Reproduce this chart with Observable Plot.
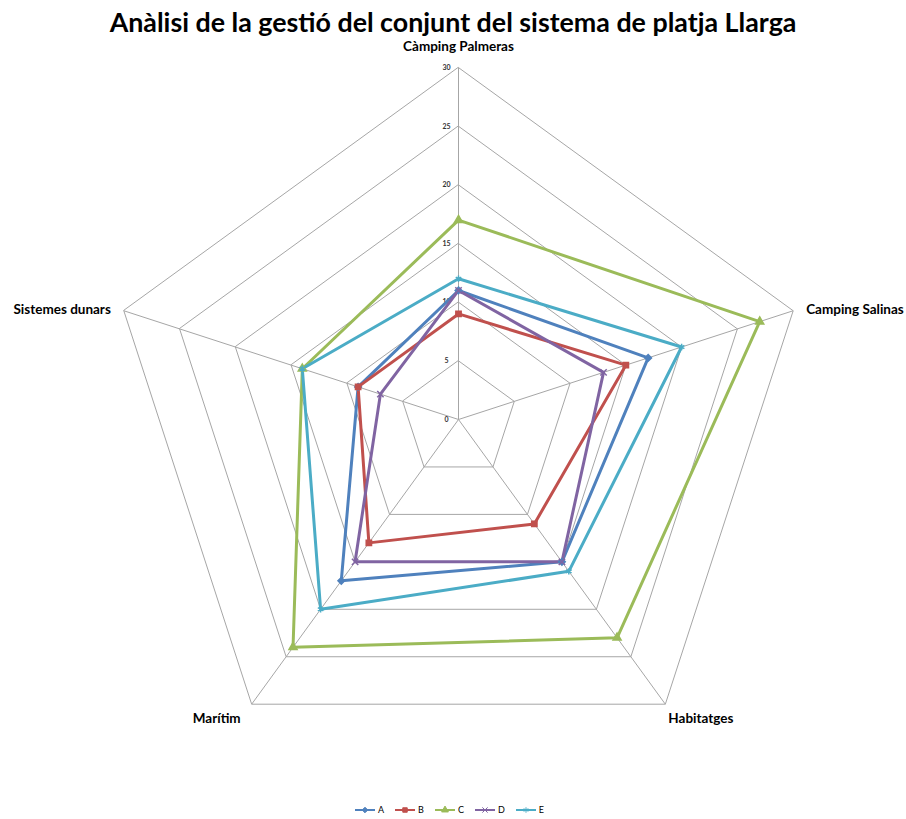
<!DOCTYPE html>
<html><head><meta charset="utf-8">
<script src="https://cdn.jsdelivr.net/npm/d3@7"></script>
<script src="https://cdn.jsdelivr.net/npm/@observablehq/plot@0.6"></script>
<style>
body{margin:0;background:#fff;font-family:Lato,"Open Sans",sans-serif;position:relative;}
#title{position:absolute;top:0;left:0;width:906px;height:40px;line-height:44px;text-align:center;font-weight:bold;font-size:26.8px;color:#000;}
#legend{display:flex;justify-content:center;gap:10px;font-size:9px;height:19px;align-items:center;margin-left:-8px}
#legend span{display:flex;align-items:center;gap:2px}
#chart svg{display:block}
</style></head>
<body>
<div id="chart"></div>
<div id="legend"></div>
<div id="title">Anàlisi de la gestió del conjunt del sistema de platja Llarga</div>
<script>
const axesLabels = ["Càmping Palmeras","Camping Salinas","Habitatges","Marítim","Sistemes dunars"];
const seriesNames = ["A","B","C","D","E"];
const A = [11,17,15,17,9];
const B = [9,15,11,13,9];
const C = [17,27,23,24,14];
const D = [11,13,15,15,7];
const E = [12,20,16,20,14];
const ticks = [0,5,10,15,20,25,30];
const colors = ["#4F81BD","#C0504D","#9BBB59","#8064A2","#4BACC6"];
const symbols = ["diamond2","square","triangle","times","asterisk"];

const values = [A,B,C,D,E];
const n = axesLabels.length;
const ang = i => 2*Math.PI*i/n;
const px = (r,i) => r*Math.sin(ang(i));
const py = (r,i) => r*Math.cos(ang(i));

const pts = [];
values.forEach((vals,s) => vals.forEach((v,i) => pts.push({series:seriesNames[s], axis:axesLabels[i], x:px(v,i), y:py(v,i)})));
const rings = [];
ticks.filter(t=>t>0).forEach(t => axesLabels.forEach((a,i) => rings.push({ring:t, x:px(t,i), y:py(t,i)})));
const spokes = axesLabels.map((a,i)=>({x2:px(30,i), y2:py(30,i)}));
const labelPos = axesLabels.map((a,i)=>({label:a, x:px(30,i), y:py(30,i), i}));

const W=906, H=800, k=11.73, cx=458, cy=419;
const anchors = ["middle","start","start","end","end"];
const dxs = [0,13,3,-11,-13];
const dys = [-21,-1,14,14,-1];

const plot = Plot.plot({
  width: W, height: H,
  margin: 0,
  x: {domain:[-cx/k,(W-cx)/k], axis:null},
  y: {domain:[-(H-cy)/k, cy/k], axis:null},
  color: {domain: seriesNames, range: colors},
  symbol: {domain: seriesNames, range: symbols},
  style: {fontFamily: "Lato, 'Open Sans', sans-serif"},
  marks: [
    Plot.line(rings, {x:"x", y:"y", z:"ring", curve:"linear-closed", stroke:"#a6a6a6", strokeWidth:1}),
    Plot.link(spokes, {x1:0, y1:0, x2:"x2", y2:"y2", stroke:"#a6a6a6", strokeWidth:1}),
    Plot.text(ticks, {x:0, y:d=>d, text:d=>String(d), dx:-12, fontSize:7, fontWeight:"bold", fill:"#333"}),
    Plot.line(pts, {x:"x", y:"y", z:"series", stroke:"series", curve:"linear-closed", strokeWidth:3}),
    Plot.dot(pts, {x:"x", y:"y", symbol:"series", stroke:"series", fill:"series", r:3, strokeWidth:1.5}),
    ...labelPos.map(l => Plot.text([l], {x:"x", y:"y", text:"label", textAnchor:anchors[l.i], dx:dxs[l.i], dy:dys[l.i], fontSize:13.5, fontWeight:"bold", fill:"#000"}))
  ]
});
document.getElementById("chart").appendChild(plot);

const leg = document.getElementById("legend");
const shapes = [d3.symbolDiamond2, d3.symbolSquare, d3.symbolTriangle, d3.symbolTimes, d3.symbolAsterisk];
seriesNames.forEach((s,i)=>{
  const sp = document.createElement("span");
  sp.innerHTML = `<svg width="22" height="8"><line x1="1" y1="4" x2="21" y2="4" stroke="${colors[i]}" stroke-width="2"/><path transform="translate(11,4)" d="${d3.symbol(shapes[i],20)()}" fill="${colors[i]}" stroke="${colors[i]}"/></svg>${s}`;
  leg.appendChild(sp);
});
</script>
</body></html>
